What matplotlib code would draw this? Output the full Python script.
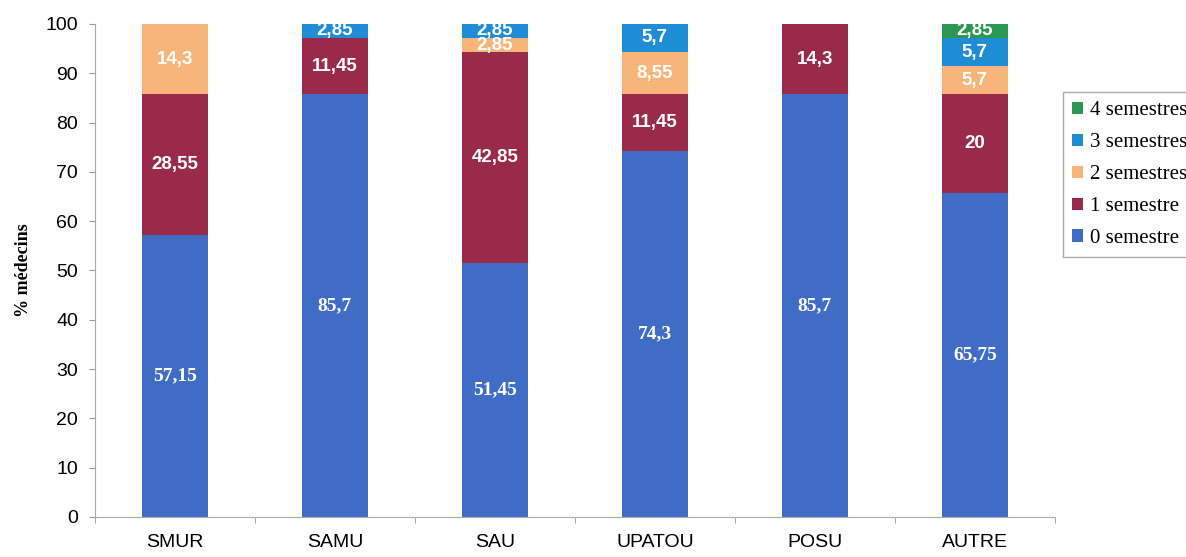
import matplotlib.pyplot as plt
import numpy as np

# donnees
categories = ['SMUR', 'SAMU', 'SAU', 'UPATOU', 'POSU', 'AUTRE']
series = ['0 semestre', '1 semestre', '2 semestres', '3 semestres', '4 semestres']
s0 = [57.15, 85.7, 51.45, 74.3, 85.7, 65.75]
s1 = [28.55, 11.45, 42.85, 11.45, 14.3, 20]
s2 = [14.3, 0, 2.85, 8.55, 0, 5.7]
s3 = [0, 2.85, 2.85, 5.7, 0, 5.7]
s4 = [0, 0, 0, 0, 0, 2.85]
couleurs = ['#3f6cc4', '#9a2a4a', '#f7b57a', '#1f8dd6', '#2a9850']

valeurs = [s0, s1, s2, s3, s4]

fig = plt.figure(figsize=(11.86, 5.57), dpi=100)
ax = fig.add_axes([0.080, 0.072, 0.8094, 0.885])

x = np.arange(len(categories))
bas = np.zeros(len(categories))
for i, (nom, v) in enumerate(zip(series, valeurs)):
    v = np.array(v)
    ax.bar(x, v, 0.41, bottom=bas, color=couleurs[i], label=nom)
    for j in range(len(x)):
        if v[j] <= 0:
            continue
        txt = str(v[j]).rstrip('0').rstrip('.').replace('.', ',')
        if i == 0:
            ax.text(x[j], bas[j] + v[j] / 2, txt, ha='center', va='center',
                    color='white', fontsize=14, fontweight='bold',
                    family='Liberation Serif')
        else:
            ax.text(x[j], bas[j] + v[j] / 2, txt, ha='center', va='center',
                    color='white', fontsize=13.5, fontweight='bold',
                    family='Liberation Sans')
    bas = bas + v

ax.set_xlim(-0.5, len(categories) - 0.5)
ax.set_ylim(0, 100)
ax.set_yticks(range(0, 101, 10))
ax.set_xticks(x)
ax.set_xticklabels(categories)
ax.set_xticks(np.arange(-0.5, len(categories)), minor=True)
ax.tick_params(axis='x', which='major', length=0, pad=12, labelsize=14)
ax.tick_params(axis='x', which='minor', length=4, color='#999999')
ax.tick_params(axis='y', length=4, color='#999999', labelsize=14, pad=8)
for t in ax.get_xticklabels() + ax.get_yticklabels():
    t.set_family('Liberation Sans')
ax.spines['top'].set_visible(False)
ax.spines['right'].set_visible(False)
ax.spines['left'].set_color('#aaaaaa')
ax.spines['bottom'].set_color('#aaaaaa')

ax.set_ylabel('% médecins', family='Liberation Serif', fontweight='bold',
              fontsize=13)
ax.yaxis.set_label_coords(-0.066, 0.5)

h, l = ax.get_legend_handles_labels()
leg = fig.legend(h[::-1], l[::-1], loc='upper left', bbox_to_anchor=(0.896, 0.835),
                 prop={'family': 'Liberation Serif', 'size': 15},
                 handlelength=0.53, handleheight=0.53, handletextpad=0.33,
                 labelspacing=0.62, borderpad=0.45, borderaxespad=0,
                 fancybox=False, edgecolor='#aaaaaa', framealpha=1)

fig.savefig('out.png', dpi=100)
